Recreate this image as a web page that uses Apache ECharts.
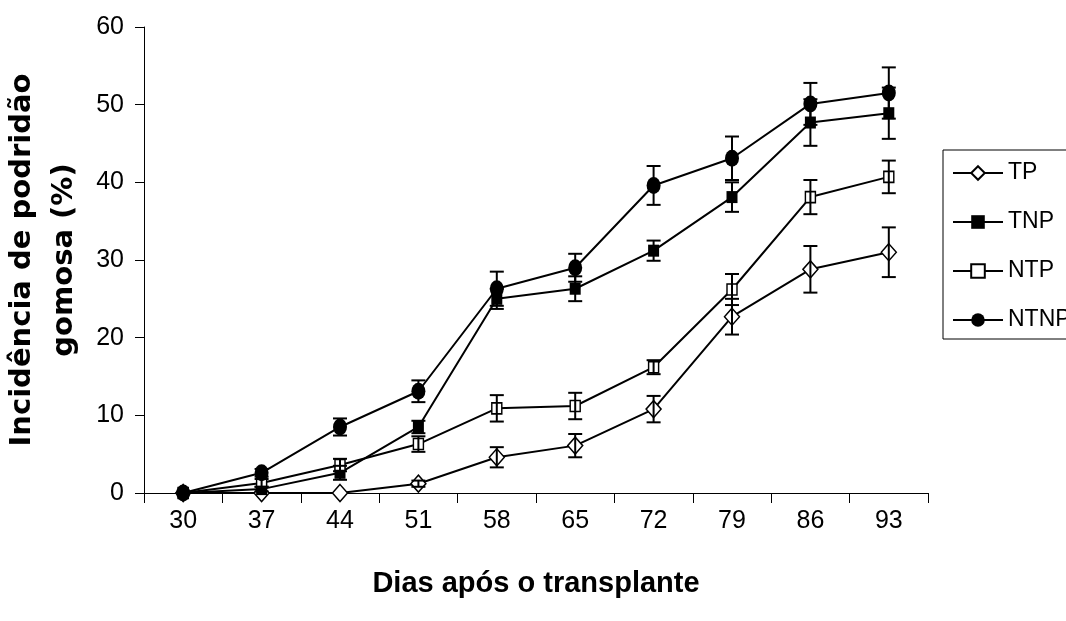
<!DOCTYPE html>
<html>
<head>
<meta charset="utf-8">
<script src="https://cdn.jsdelivr.net/npm/echarts@6/dist/echarts.min.js"></script>
<style>html,body{margin:0;padding:0;background:#fff}#c{width:1066px;height:621px}</style>
</head>
<body>
<div id="c"></div>
<script>
var days = ['30','37','44','51','58','65','72','79','86','93'];
var yTicks = [0,10,20,30,40,50,60];
var seriesNames = ['TP','TNP','NTP','NTNP'];
var tpValues   = [0, 0, 0, 1.2, 4.6, 6.1, 10.8, 22.7, 28.8, 31.0];
var tnpValues  = [0, 0.5, 2.6, 8.5, 25.0, 26.3, 31.2, 38.1, 47.7, 48.9];
var ntpValues  = [0, 1.3, 3.6, 6.3, 10.9, 11.2, 16.2, 26.2, 38.1, 40.7];
var ntnpValues = [0, 2.6, 8.5, 13.1, 26.3, 29.0, 39.6, 43.1, 50.1, 51.5];
var tpErr   = [0, 0, 0, 0.4, 1.3, 1.5, 1.7, 2.3, 3.0, 3.2];
var tnpErr  = [0, 0.3, 0.9, 0.8, 1.3, 1.6, 1.3, 1.9, 3.0, 3.3];
var ntpErr  = [0, 0.5, 0.8, 1.0, 1.7, 1.7, 0.9, 2.0, 2.2, 2.1];
var ntnpErr = [0, 0.5, 1.1, 1.4, 2.2, 1.8, 2.5, 2.8, 2.7, 3.3];

var SANS = "'Liberation Sans',Arial,sans-serif";

var values = [tpValues, tnpValues, ntpValues, ntnpValues];
var errs = [tpErr, tnpErr, ntpErr, ntnpErr];
var symbols = ['diamond','rect','rect','circle'];
var sizes = [[15,17],[11,12],[10,11],[14,17]];
var filled = [false,true,false,true];

var series = [];
seriesNames.forEach(function(n, k){
  series.push({
    name: n, type: 'line', data: values[k],
    symbol: symbols[k], symbolSize: sizes[k],
    lineStyle: {color: '#000', width: 2},
    itemStyle: filled[k] ? {color: '#000', borderColor: '#000', borderWidth: 0}
                         : {color: '#fff', borderColor: '#000', borderWidth: 1.5},
    z: 3 + k
  });
});
seriesNames.forEach(function(n, k){
  var d = values[k].map(function(v, i){ return [i, v - errs[k][i], v + errs[k][i]]; })
                   .filter(function(r){ return r[2] > r[1]; });
  series.push({
    name: n + ' err', type: 'custom', data: d, z: 10,
    renderItem: function(params, api){
      var x = api.value(0);
      var lo = api.coord([x, api.value(1)]);
      var hi = api.coord([x, api.value(2)]);
      var w = 7;
      var st = {stroke: '#000', lineWidth: 2};
      return {type: 'group', children: [
        {type: 'line', shape: {x1: lo[0], y1: lo[1], x2: hi[0], y2: hi[1]}, style: st},
        {type: 'line', shape: {x1: lo[0]-w, y1: lo[1], x2: lo[0]+w, y2: lo[1]}, style: st},
        {type: 'line', shape: {x1: hi[0]-w, y1: hi[1], x2: hi[0]+w, y2: hi[1]}, style: st}
      ]};
    }
  });
});

var chart = echarts.init(document.getElementById('c'), null, {renderer: 'canvas'});
chart.setOption({
  animation: false,
  backgroundColor: '#fff',
  grid: {left: 144, right: 138, top: 27, bottom: 128, containLabel: false, outerBoundsMode: 'none'},
  legend: {
    data: seriesNames, orient: 'vertical', left: 943, top: 150,
    itemWidth: 50, itemHeight: 17, itemGap: 23,
    padding: [10, 40, 6, 9],
    borderColor: '#000', borderWidth: 1,
    textStyle: {fontFamily: SANS, fontSize: 23, color: '#000', lineHeight: 26}
  },
  xAxis: {
    type: 'category', data: days, boundaryGap: true,
    name: 'Dias após o transplante', nameLocation: 'middle', nameGap: 76,
    nameTextStyle: {fontFamily: SANS, fontWeight: 'bold', fontSize: 29, color: '#000'},
    axisLine: {lineStyle: {color: '#000', width: 1}},
    axisTick: {show: true, length: 10, alignWithLabel: false, lineStyle: {color: '#000'}},
    axisLabel: {fontFamily: SANS, fontSize: 25, color: '#000', margin: 16},
    splitLine: {show: false}
  },
  yAxis: {
    type: 'value', min: yTicks[0], max: yTicks[yTicks.length-1], interval: 10,
    name: 'Incidência de podridão\ngomosa (%)', nameLocation: 'middle', nameGap: 51, nameRotate: 90,
    nameTextStyle: {fontFamily: "'DejaVu Sans',sans-serif", fontWeight: 'bold', fontSize: 29, color: '#000', lineHeight: 42},
    axisLine: {show: true, lineStyle: {color: '#000', width: 1}},
    axisTick: {show: true, length: 9, lineStyle: {color: '#000'}},
    axisLabel: {fontFamily: SANS, fontSize: 25, color: '#000', margin: 20},
    splitLine: {show: false}
  },
  series: series
});
</script>
</body>
</html>
